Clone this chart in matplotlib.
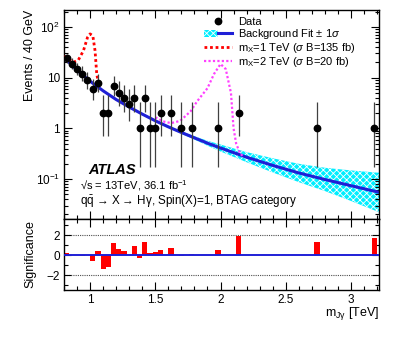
import matplotlib
matplotlib.use("Agg")
import matplotlib.pyplot as plt
from matplotlib.ticker import (MultipleLocator, FixedLocator, LogLocator, NullFormatter,
                               FixedFormatter, FormatStrFormatter)
from matplotlib.legend_handler import HandlerTuple

plt.rcParams['font.family'] = ['Liberation Sans', 'DejaVu Sans']
plt.rcParams['mathtext.fontset'] = 'custom'
plt.rcParams['mathtext.rm'] = 'Liberation Sans'
plt.rcParams['mathtext.it'] = 'Liberation Sans:italic'
plt.rcParams['mathtext.bf'] = 'Liberation Sans:bold'
plt.rcParams['hatch.linewidth'] = 0.6

# observed data (40 GeV bins), Garwood 68% intervals
data_x = [0.82, 0.86, 0.90, 0.94, 0.98, 1.02, 1.06, 1.10, 1.14, 1.18, 1.22, 1.26, 1.30,
          1.34, 1.38, 1.42, 1.46, 1.50, 1.54, 1.62, 1.70, 1.78, 1.98, 2.14, 2.74, 3.18]
data_n = [24, 19, 15, 12, 9, 6, 8, 2, 2, 7, 5, 4, 3, 4, 1, 4, 1, 1, 2, 2, 1, 1, 1, 2, 1, 1]
err_lo = [19.2, 14.8, 11.2, 8.6, 6.1, 3.6, 5.2, 0.71, 0.71, 4.4, 2.8, 2.1, 1.4, 2.1, 0.17,
          2.1, 0.17, 0.17, 0.71, 0.71, 0.17, 0.17, 0.17, 0.71, 0.17, 0.17]
err_hi = [29.9, 24.4, 19.9, 16.6, 13.1, 9.6, 12.0, 4.64, 4.64, 10.8, 8.4, 7.2, 5.9, 7.2, 3.3,
          7.2, 3.3, 3.3, 4.64, 4.64, 3.3, 3.3, 3.3, 4.64, 3.3, 3.3]

# background fit and its 1 sigma band
fit_x = [0.8, 0.9, 1.0, 1.1, 1.2, 1.3, 1.4, 1.5, 1.6, 1.7, 1.8, 1.9, 2.0, 2.2, 2.4, 2.6,
         2.8, 3.0, 3.2, 3.215]
fit_y = [25.1, 14.1, 8.5, 5.5, 3.7, 2.63, 1.91, 1.41, 1.07, 0.83, 0.65, 0.51, 0.41, 0.27,
         0.186, 0.132, 0.098, 0.074, 0.056, 0.055]
band_lo = [24.2, 13.6, 8.2, 5.3, 3.57, 2.54, 1.84, 1.36, 1.02, 0.78, 0.60, 0.455, 0.35,
           0.215, 0.135, 0.087, 0.058, 0.037, 0.023, 0.022]
band_hi = [26.0, 14.6, 8.8, 5.7, 3.83, 2.72, 1.98, 1.46, 1.12, 0.88, 0.70, 0.57, 0.48,
           0.34, 0.257, 0.20, 0.167, 0.148, 0.134, 0.134]

# signal + background shapes
sig1_x = [0.8, 0.816, 0.872, 0.91, 0.949, 0.98, 1.0, 1.021, 1.038, 1.051, 1.066]
sig1_y = [26.0, 25.2, 20.1, 22.3, 34, 62, 73, 67, 34, 11.8, 7.5]
sig2_x = [1.50, 1.56, 1.62, 1.69, 1.77, 1.82, 1.90, 1.95, 2.00, 2.04, 2.08, 2.10, 2.12,
          2.15, 2.18]
sig2_y = [1.65, 1.37, 1.27, 1.4, 2.16, 3.4, 6.2, 11.8, 18.6, 14.8, 5.0, 1.0, 0.5, 0.32, 0.27]

# significance per bin
sig_x = [0.82, 0.94, 1.02, 1.06, 1.10, 1.14, 1.18, 1.22, 1.26, 1.30, 1.34, 1.38, 1.42,
         1.46, 1.50, 1.54, 1.62, 1.70, 1.78, 1.98, 2.14, 2.74, 3.18]
sig_val = [0.17, -0.1, -0.55, 0.4, -1.4, -1.15, 1.25, 0.65, 0.45, 0.05, 0.95, -0.25, 1.3,
           0.2, 0.3, 0.5, 0.7, -0.08, 0.15, 0.55, 1.9, 1.35, 1.7]

W, H = 399, 337
blue = '#1f1fd6'
magenta = '#ff40ff'

fig = plt.figure(figsize=(W / 100, H / 100), dpi=100)
ax1 = fig.add_axes([64 / W, 1 - 219 / H, 315 / W, 209 / H])
ax2 = fig.add_axes([64 / W, 1 - 290 / H, 315 / W, 71 / H])

band = ax1.fill_between(fit_x, band_lo, band_hi, facecolor='#00eeff', edgecolor='white',
                        hatch='xxxxx', linewidth=0, zorder=1)
fit_line, = ax1.plot(fit_x, fit_y, color=blue, lw=2.2, zorder=2)
s1, = ax1.plot(sig1_x, sig1_y, color='red', ls=(0, (1, 1)), lw=2.0, zorder=3)
s2, = ax1.plot(sig2_x, sig2_y, color=magenta, ls=(0, (1, 1)), lw=1.6, zorder=3)
ax1.vlines(data_x, err_lo, err_hi, color='0.25', lw=0.9, zorder=4)
dat, = ax1.plot(data_x, data_n, 'o', color='black', ms=4.6, zorder=5)

ax1.set_yscale('log')
ax1.set_xlim(0.8, 3.215)
ax1.set_ylim(0.0163, 216)
ax1.yaxis.set_major_locator(FixedLocator([0.1, 1, 10, 100]))
ax1.yaxis.set_major_formatter(FixedFormatter([r'$10^{-1}$', '1', '10', r'$10^{2}$']))
ax1.yaxis.set_minor_locator(LogLocator(base=10, subs=range(2, 10), numticks=20))
ax1.yaxis.set_minor_formatter(NullFormatter())
ax1.tick_params(labelbottom=False)

leg = ax1.legend([dat, (band, fit_line), s1, s2],
                 ['Data', r'Background Fit $\pm$ 1$\sigma$',
                  r'm$_{\rm X}$=1 TeV ($\sigma$ B=135 fb)',
                  r'm$_{\rm X}$=2 TeV ($\sigma$ B=20 fb)'],
                 handler_map={tuple: HandlerTuple(ndivide=None, pad=0)},
                 loc='upper left', bbox_to_anchor=(0.445, 0.965), frameon=False,
                 fontsize=8, handlelength=2.5, handletextpad=0.55, labelspacing=0.0,
                 borderpad=0, borderaxespad=0)

fig.text(88 / W, 1 - 170 / H, 'ATLAS', fontsize=10.5, fontweight='bold', fontstyle='italic',
         va='center', ha='left')
fig.text(80 / W, 1 - 186 / H, '√s = 13TeV, 36.1 fb$^{-1}$', fontsize=8,
         va='center', ha='left')
fig.text(80 / W, 1 - 202 / H, r'$\rm q\bar{q}$ → X → Hγ, Spin(X)=1, BTAG category',
         fontsize=8.4, va='center', ha='left')

# significance panel
ax2.bar(sig_x, sig_val, width=0.04, color='red', linewidth=0, zorder=2)
ax2.axhline(0, color=blue, lw=1.4, zorder=3)
for lvl in (-2, 2):
    ax2.axhline(lvl, color='0.3', lw=0.8, ls=(0, (1, 1)), zorder=1)
ax2.set_xlim(0.8, 3.215)
ax2.set_ylim(-3.5, 3.6)
ax2.yaxis.set_major_locator(FixedLocator([-2, 0, 2]))
ax2.yaxis.set_minor_locator(MultipleLocator(1))
ax2.xaxis.set_major_formatter(FormatStrFormatter('%g'))

for ax in (ax1, ax2):
    ax.xaxis.set_major_locator(MultipleLocator(0.5))
    ax.xaxis.set_minor_locator(MultipleLocator(0.1))
    ax.tick_params(which='both', direction='in', top=True, right=True, labelsize=8.5,
                   width=0.8, pad=3)
    ax.tick_params(which='major', length=6)
    ax.tick_params(which='minor', length=3)
    for sp in ax.spines.values():
        sp.set_linewidth(1.0)
ax2.tick_params(axis='y', which='major', length=5)
ax2.tick_params(axis='y', which='minor', length=3)

fig.text(30 / W, 1 - 10 / H, 'Events / 40 GeV', rotation=90, fontsize=9, ha='center',
         va='top')
fig.text(30 / W, 1 - 254 / H, 'Significance', rotation=90, fontsize=9, ha='center',
         va='center')
fig.text(379 / W, 1 - 314 / H, r'm$_{\rm J\gamma}$ [TeV]', fontsize=9, ha='right',
         va='center')

fig.savefig('out.png', dpi=100)
